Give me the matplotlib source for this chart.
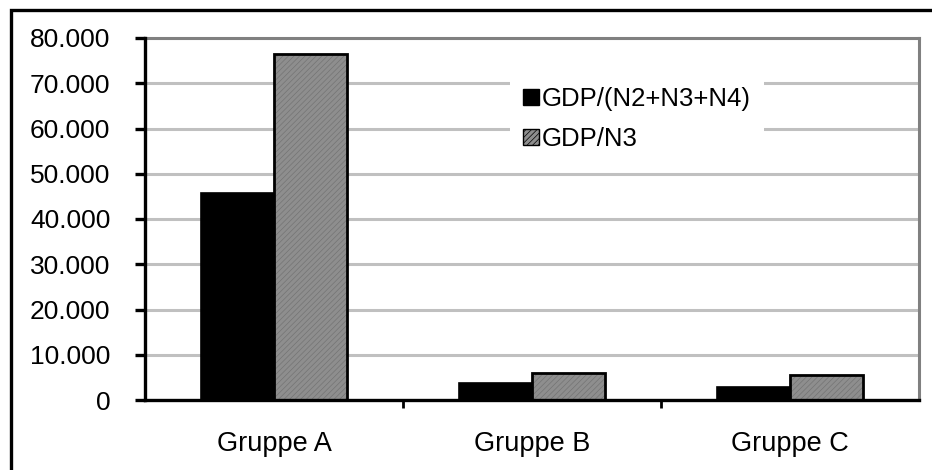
import matplotlib.pyplot as plt
from matplotlib.patches import Rectangle, Patch
from matplotlib.ticker import FuncFormatter
import numpy as np

groups = ["Gruppe A", "Gruppe B", "Gruppe C"]
gdp_n234 = [45700, 3800, 2900]
gdp_n3 = [76400, 6000, 5600]
series_names = ["GDP/(N2+N3+N4)", "GDP/N3"]

plt.rcParams['font.family'] = ['Liberation Sans', 'DejaVu Sans']
plt.rcParams['hatch.linewidth'] = 0.5

fig = plt.figure(figsize=(9.32, 4.70), dpi=100)
ax = fig.add_axes([145 / 932, 70 / 470, 774 / 932, 362 / 470])

# outer chart frame (runs off right/bottom edge like the original)
fig.patches.append(Rectangle((11 / 932, -0.1), 1.2, (460 / 470) + 0.1,
                             transform=fig.transFigure, fill=False,
                             edgecolor='black', linewidth=2.4, zorder=0))

x = np.arange(len(groups))
w = 0.283
ax.bar(x - w / 2, gdp_n234, w, color='black', edgecolor='black',
       linewidth=1.2, zorder=3)
ax.bar(x + w / 2, gdp_n3, w, color='#8e8e8e', edgecolor='#747474',
       hatch='//////', linewidth=0, zorder=3)
ax.bar(x + w / 2, gdp_n3, w, fill=False, edgecolor='black',
       linewidth=2.0, zorder=4)

ax.set_xlim(-0.5, len(groups) - 0.5)
ax.set_ylim(0, 80000)
ax.set_yticks(np.arange(0, 80001, 10000))
ax.yaxis.set_major_formatter(FuncFormatter(
    lambda v, p: f"{int(v):,}".replace(",", ".")))
ax.set_xticks(x)
ax.set_xticklabels(groups)
ax.set_xticks(np.arange(0.5, len(groups) - 1, 1), minor=True)
ax.tick_params(axis='x', which='major', length=0, pad=22, labelsize=19.5)
ax.tick_params(axis='x', which='minor', length=6, width=2, direction='out')
ax.tick_params(axis='y', length=7, width=2.4, direction='out', pad=18,
               labelsize=19)

ax.yaxis.grid(True, color='#c0c0c0', linewidth=2.2, zorder=0)
ax.set_axisbelow(True)
for s in ['top', 'right']:
    ax.spines[s].set_color('#808080')
    ax.spines[s].set_linewidth(2.2)
for s in ['left', 'bottom']:
    ax.spines[s].set_color('black')
    ax.spines[s].set_linewidth(2.4)
    ax.spines[s].set_zorder(5)

handles = [Patch(facecolor='black', edgecolor='black'),
           Patch(facecolor='#8e8e8e', edgecolor='black', hatch='//////')]
leg = ax.legend(handles, series_names, loc='upper left',
                bbox_to_anchor=(0.472, 0.90), frameon=True, fancybox=False,
                edgecolor='none', facecolor='white', framealpha=1,
                borderpad=0.5, handlelength=0.62, handleheight=0.62,
                handletextpad=0.1, labelspacing=0.62, fontsize=18.5,
                borderaxespad=0)

fig.savefig("out.png", dpi=100)
